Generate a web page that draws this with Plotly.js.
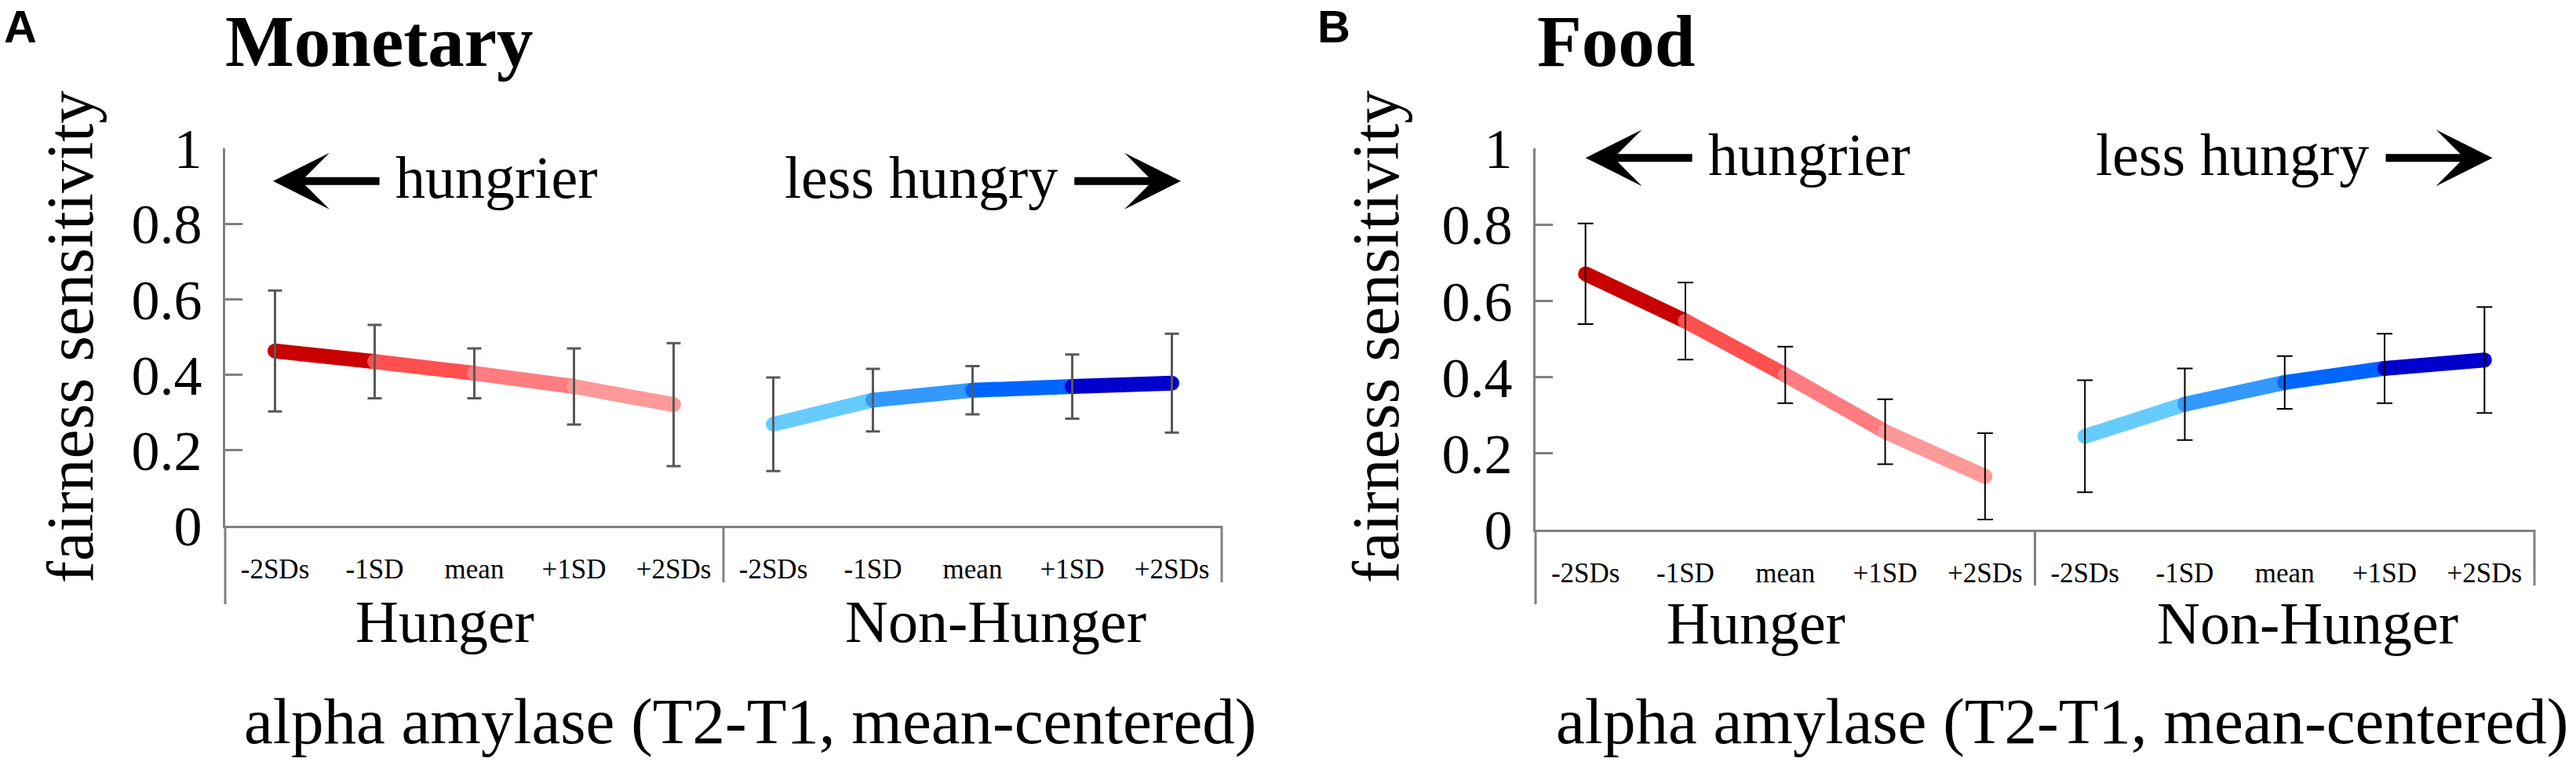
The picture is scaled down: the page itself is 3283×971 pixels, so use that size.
<!DOCTYPE html>
<html>
<head>
<meta charset="utf-8">
<script src="https://cdn.plot.ly/plotly-3.0.1.min.js"></script>
<style>html,body{margin:0;padding:0;background:#fff;}#chart{width:3283px;height:971px;}</style>
</head>
<body>
<div id="chart"></div>
<script>
// ---------- data ----------
const categories = ['-2SDs', '-1SD', 'mean', '+1SD', '+2SDs'];
const groups = ['Hunger', 'Non-Hunger'];
const yTickValues = [0, 0.2, 0.4, 0.6, 0.8, 1];
const yTickLabels = ['0', '0.2', '0.4', '0.6', '0.8', '1'];

const monetaryHunger       = [0.463, 0.435, 0.404, 0.369, 0.321];
const monetaryHungerErr    = [0.160, 0.097, 0.066, 0.101, 0.163];
const monetaryNonHunger    = [0.269, 0.333, 0.359, 0.369, 0.378];
const monetaryNonHungerErr = [0.124, 0.083, 0.064, 0.085, 0.131];

const foodHunger           = [0.671, 0.547, 0.406, 0.257, 0.140];
const foodHungerErr        = [0.132, 0.101, 0.074, 0.085, 0.113];
const foodNonHunger        = [0.245, 0.329, 0.386, 0.423, 0.445];
const foodNonHungerErr     = [0.147, 0.094, 0.069, 0.091, 0.139];

// ---------- styling / layout ----------
const W = 3283, H = 971;
const SERIF = '"Liberation Serif", "Times New Roman", serif';
const SANS = '"Liberation Sans", Arial, sans-serif';
const hungerColors = ['#C80000', '#FF5050', '#FF7C80', '#FF9999'];
const nonHungerColors = ['#66CCFF', '#3399FF', '#0066FF', '#0000CC'];
const AXC = '#808080';

const panels = [
  { letter: 'A', title: 'Monetary', xa: 'x', ya: 'y', xkey: 'xaxis', ykey: 'yaxis',
    xpx: [287, 1557], ypx: [189, 670],
    series: [[monetaryHunger, monetaryHungerErr], [monetaryNonHunger, monetaryNonHungerErr]],
    err: { color: '#595959', thickness: 3, width: 9 },
    letterX: 4, titleX: 286, yTitleX: 89, xTitleX: 956, dividerBottom: 742,
    dirY: 226, arrowY: 0.913, groupY: 792, hungrierX: 1.19, lessX: 7.87,
    arrowL: [-0.02, 1.06], arrowR: [8.01, 9.09] },
  { letter: 'B', title: 'Food', xa: 'x2', ya: 'y2', xkey: 'xaxis2', ykey: 'yaxis2',
    xpx: [1957, 3230], ypx: [189, 675],
    series: [[foodHunger, foodHungerErr], [foodNonHunger, foodNonHungerErr]],
    err: { color: '#000000', thickness: 2, width: 10 },
    letterX: 1678, titleX: 1958, yTitleX: 1753, xTitleX: 2628, dividerBottom: 746,
    dirY: 197.5, arrowY: 0.975, groupY: 794, hungrierX: 1.21, lessX: 7.86,
    arrowL: [0.0, 1.08], arrowR: [8.0, 9.08] }
];

const traces = [];
const layout = {
  width: W, height: H,
  margin: { l: 0, r: 0, t: 0, b: 0, pad: 0 },
  paper_bgcolor: '#ffffff', plot_bgcolor: 'rgba(0,0,0,0)',
  showlegend: false,
  shapes: [], annotations: []
};

const px = v => v / W;
const py = v => 1 - v / H;

panels.forEach(p => {
  // coloured line segments
  p.series.forEach((s, g) => {
    const vals = s[0];
    const xs = categories.map((_, i) => g * categories.length + i);
    const cols = g === 0 ? hungerColors : nonHungerColors;
    for (let k = 0; k < vals.length - 1; k++) {
      traces.push({
        type: 'scatter', mode: 'lines+markers', xaxis: p.xa, yaxis: p.ya,
        x: [xs[k], xs[k + 1]], y: [vals[k], vals[k + 1]],
        line: { color: cols[k], width: 19 },
        marker: { color: cols[k], size: 19, line: { width: 0 } },
        cliponaxis: false, hoverinfo: 'skip'
      });
    }
  });
  // error bars on top
  p.series.forEach((s, g) => {
    const xs = categories.map((_, i) => g * categories.length + i);
    traces.push({
      type: 'scatter', mode: 'markers', xaxis: p.xa, yaxis: p.ya,
      x: xs, y: s[0],
      marker: { size: 2, opacity: 0 },
      error_y: { type: 'data', array: s[1], visible: true,
                 color: p.err.color, thickness: p.err.thickness, width: p.err.width },
      cliponaxis: false, hoverinfo: 'skip'
    });
  });

  const n = categories.length * groups.length;
  layout[p.xkey] = {
    domain: [px(p.xpx[0]), px(p.xpx[1])], anchor: p.ya,
    range: [-0.5, n - 0.5], showgrid: false, zeroline: false,
    showline: true, linecolor: AXC, linewidth: 3,
    ticks: '', tickmode: 'array',
    tickvals: categories.concat(categories).map((_, i) => i),
    ticktext: categories.concat(categories),
    tickfont: { family: SERIF, size: 35, color: '#000' },
    ticklabelstandoff: 22, fixedrange: true
  };
  layout[p.ykey] = {
    domain: [py(p.ypx[1]), py(p.ypx[0])], anchor: p.xa,
    range: [0, 1], showgrid: false, zeroline: false,
    showline: true, linecolor: AXC, linewidth: 3,
    ticks: 'inside', ticklen: 22, tickwidth: 3, tickcolor: AXC,
    tickmode: 'array', tickvals: yTickValues, ticktext: yTickLabels,
    tickfont: { family: SERIF, size: 72, color: '#000' },
    ticklabelstandoff: 12, fixedrange: true
  };

  // shapes: y-axis extension, group divider, right end
  const slotW = (p.xpx[1] - p.xpx[0]) / n;
  const line = (x, y0, y1) => ({ type: 'line', xref: 'paper', yref: 'paper',
    x0: px(x), x1: px(x), y0: py(y0), y1: py(y1), line: { color: AXC, width: 3 } });
  layout.shapes.push(line(p.xpx[0], p.ypx[1], 770));
  layout.shapes.push(line(p.xpx[0] + slotW * categories.length, p.ypx[1], p.dividerBottom));
  layout.shapes.push(line(p.xpx[1], p.ypx[1], p.dividerBottom));

  const A = layout.annotations;
  // panel letter
  A.push({ xref: 'paper', yref: 'paper', x: px(p.letterX), y: 1, xanchor: 'left', yanchor: 'top',
    text: '<b>' + p.letter + '</b>', showarrow: false, borderpad: 0,
    font: { family: SANS, size: 58, color: '#000' } });
  // title
  A.push({ xref: 'paper', yref: 'paper', x: px(p.titleX), y: 1, xanchor: 'left', yanchor: 'top',
    text: '<b>' + p.title + '</b>', showarrow: false, borderpad: 0,
    font: { family: SERIF, size: 93, color: '#000' } });
  // y title
  A.push({ xref: 'paper', yref: 'paper', x: px(p.yTitleX), y: py(429), xanchor: 'center', yanchor: 'middle',
    textangle: -90, text: 'fairness sensitivity', showarrow: false,
    font: { family: SERIF, size: 84, color: '#000' } });
  // x title
  A.push({ xref: 'paper', yref: 'paper', x: px(p.xTitleX), y: py(919), xanchor: 'center', yanchor: 'middle',
    text: 'alpha amylase (T2-T1, mean-centered)', showarrow: false,
    font: { family: SERIF, size: 83, color: '#000' } });
  // group labels
  [1.705, 7.23].forEach((gx, g) => {
    A.push({ xref: p.xa, yref: 'paper', x: gx, y: py(p.groupY), xanchor: 'center', yanchor: 'middle',
      text: groups[g], showarrow: false, font: { family: SERIF, size: 76, color: '#000' } });
  });
  // direction labels
  A.push({ xref: p.xa, yref: 'paper', x: p.hungrierX, y: py(p.dirY), xanchor: 'left', yanchor: 'middle',
    text: 'hungrier', showarrow: false, font: { family: SERIF, size: 76, color: '#000' } });
  A.push({ xref: p.xa, yref: 'paper', x: p.lessX, y: py(p.dirY), xanchor: 'right', yanchor: 'middle',
    text: 'less hungry', showarrow: false, font: { family: SERIF, size: 76, color: '#000' } });
  // arrows
  const arrowStyle = { text: '', showarrow: true, arrowhead: 3, arrowsize: 1.2, arrowwidth: 10,
    arrowcolor: '#000', standoff: 0 };
  A.push(Object.assign({ xref: p.xa, yref: p.ya, axref: p.xa, ayref: p.ya,
    x: p.arrowL[0], y: p.arrowY, ax: p.arrowL[1], ay: p.arrowY }, arrowStyle));
  A.push(Object.assign({ xref: p.xa, yref: p.ya, axref: p.xa, ayref: p.ya,
    x: p.arrowR[1], y: p.arrowY, ax: p.arrowR[0], ay: p.arrowY }, arrowStyle));
});

Plotly.newPlot('chart', traces, layout, { staticPlot: true, displayModeBar: false });
</script>
</body>
</html>
